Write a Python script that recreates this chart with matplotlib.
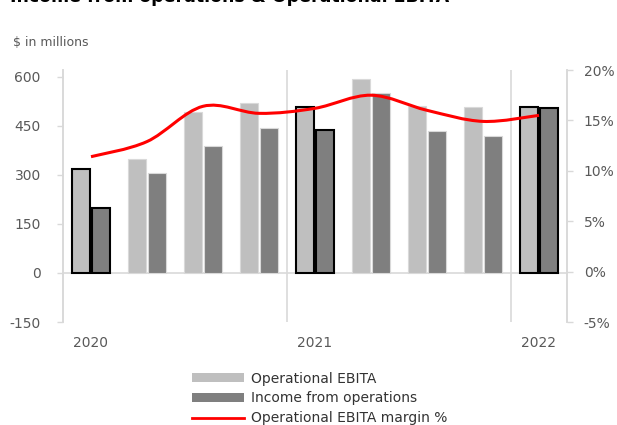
import numpy as np
import matplotlib.pyplot as plt
from matplotlib.path import Path
from matplotlib.patches import PathPatch, Patch
from matplotlib.lines import Line2D

plt.rcParams['axes.unicode_minus'] = False

quarters = ['Q1 20', 'Q2 20', 'Q3 20', 'Q4 20', 'Q1 21', 'Q2 21', 'Q3 21', 'Q4 21', 'Q1 22']
year_labels = ['2020', '', '', '', '2021', '', '', '', '2022']
op_ebita = [317, 348, 493, 521, 509, 593, 511, 507, 509]
income_ops = [198, 305, 387, 444, 438, 550, 434, 418, 504]
margin_pct = [11.4, 12.9, 16.4, 15.7, 16.2, 17.5, 16.0, 14.9, 15.5]
highlight = [True, False, False, False, True, False, False, False, True]

light = '#bfbfbf'
dark = '#7f7f7f'
grid = '#d9d9d9'
txt = '#595959'

fig = plt.figure(figsize=(6.17, 4.25), dpi=100)
ax = fig.add_axes([63 / 617, 1 - 322 / 425, 504 / 617, 252 / 425])
ax2 = ax.twinx()

x = np.arange(len(quarters))
w = 0.31
off = 0.18
for i in x:
    ec = 'black' if highlight[i] else '#d9d9d9'
    lw = 1.5 if highlight[i] else 0.8
    ax.bar(i - off, op_ebita[i], w, color=light, edgecolor=ec, linewidth=lw, zorder=3)
    ax.bar(i + off, income_ops[i], w, color=dark, edgecolor=ec, linewidth=lw, zorder=3)

ax.set_xlim(-0.5, len(quarters) - 0.5)
ax.set_ylim(-150, 621)
ax.set_yticks([-150, 0, 150, 300, 450, 600])
ax.axhline(0, color=grid, lw=1.2, zorder=2)
for xs in [3.5, 7.5]:
    ax.axvline(xs, color=grid, lw=1.2, zorder=1)

ax.set_xticks(x)
ax.set_xticklabels(year_labels)
ax.tick_params(axis='x', length=0, pad=10, labelsize=10, labelcolor=txt)
ax.tick_params(axis='y', length=4, width=1, color=grid, pad=12, labelsize=10, labelcolor=txt)

ax2.set_ylim(-5, 20)
ax2.set_yticks([-5, 0, 5, 10, 15, 20])
ax2.set_yticklabels([f'{t}%' for t in [-5, 0, 5, 10, 15, 20]])
ax2.tick_params(axis='y', length=4, width=1, color=grid, pad=8, labelsize=10, labelcolor=txt)

for a in (ax, ax2):
    for s in ['top', 'bottom']:
        a.spines[s].set_visible(False)
    a.spines['left'].set_color(grid)
    a.spines['right'].set_color(grid)
    a.spines['left'].set_linewidth(1.2)
    a.spines['right'].set_linewidth(1.2)

# smoothed margin line (Excel-style bezier through the points)
pts = np.column_stack([x, margin_pct]).astype(float)
verts = [tuple(pts[0])]
codes = [Path.MOVETO]
n = len(pts)
for i in range(n - 1):
    p0 = pts[i - 1] if i > 0 else pts[i]
    p1 = pts[i]
    p2 = pts[i + 1]
    p3 = pts[i + 2] if i + 2 < n else pts[i + 1]
    c1 = p1 + (p2 - p0) / 6
    c2 = p2 - (p3 - p1) / 6
    verts += [tuple(c1), tuple(c2), tuple(p2)]
    codes += [Path.CURVE4] * 3
ax2.add_patch(PathPatch(Path(verts, codes), fill=False, edgecolor='#ff0000', lw=2.2, zorder=5))

fig.text(10 / 617, 1 - 2 / 425, 'Income from operations & Operational EBITA',
         fontsize=12.5, fontweight='bold', color='black', va='baseline', ha='left')
fig.text(13 / 617, 1 - 42 / 425, '$ in millions', fontsize=9, color=txt, va='center', ha='left')

handles = [Patch(facecolor=light, edgecolor='none'),
           Patch(facecolor=dark, edgecolor='none'),
           Line2D([0], [0], color='#ff0000', lw=2)]
labels = ['Operational EBITA', 'Income from operations', 'Operational EBITA margin %']
fig.legend(handles, labels, loc='upper left', bbox_to_anchor=(186 / 617, 1 - 366 / 425),
           frameon=False, fontsize=10, handlelength=3.8, handleheight=0.6,
           handletextpad=0.5, labelspacing=0.42, labelcolor='#333333', borderaxespad=0)

fig.savefig('out.png', dpi=100)
